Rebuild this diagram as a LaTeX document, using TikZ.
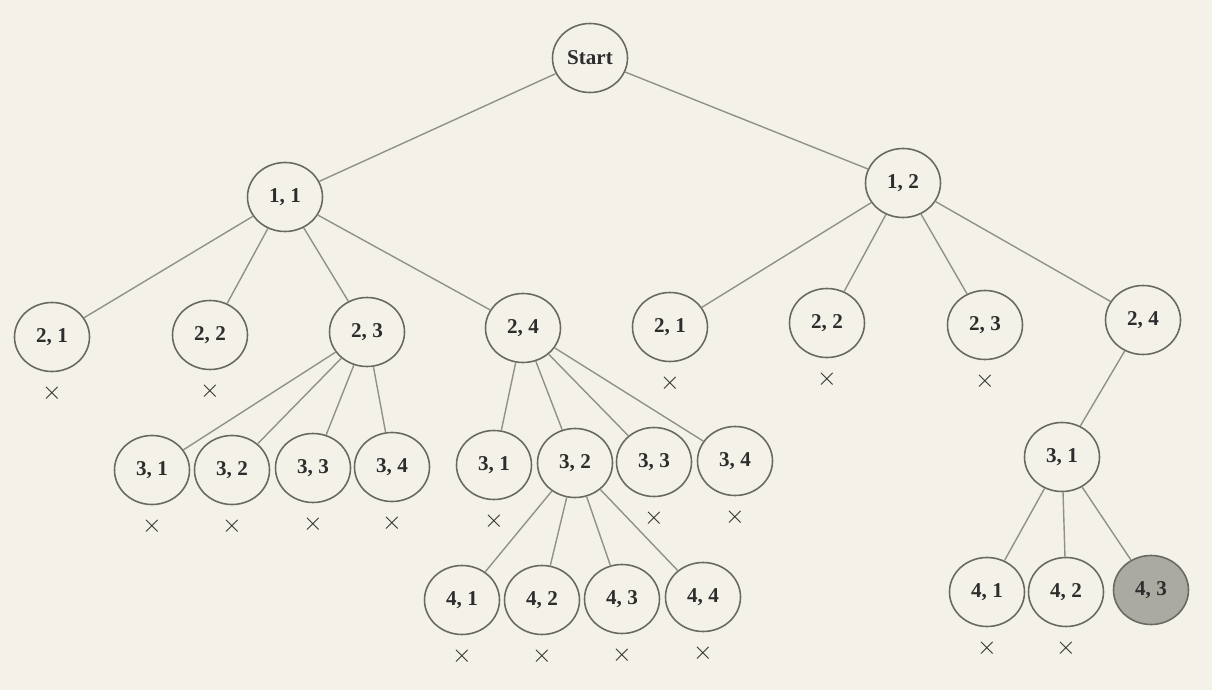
\documentclass[tikz,border=0pt]{standalone}
\usepackage{fontspec}
\setmainfont{Liberation Serif}
\usetikzlibrary{shapes.geometric}
\definecolor{paper}{RGB}{244,242,232}
\definecolor{edgegray}{RGB}{145,145,140}
\definecolor{rimgray}{RGB}{105,105,100}
\definecolor{inkgray}{RGB}{45,45,45}
\definecolor{goalgray}{RGB}{170,169,162}

\begin{document}
\begin{tikzpicture}[
  every node/.style = {text=inkgray, font=\fontsize{12}{14}\selectfont\bfseries},
  state/.style = {shape=ellipse, draw=rimgray, line width=0.9pt, fill=paper,
    minimum width=1.5cm, minimum height=1.38cm, inner sep=0pt},
  goal/.style = {state, fill=goalgray},
  cross/.style = {inner sep=0pt, font=\fontsize{14}{16}\selectfont},
  link/.style = {draw=edgegray, line width=0.8pt}
  ]
  \fill[paper] (0,0) rectangle (24.24,-13.8);
  \useasboundingbox (0,0) rectangle (24.24,-13.8);

  % root and first level
  \node[state] (start) at (11.8,-1.16) {Start};
  \node[state] (a) at (5.7,-3.94) {1, 1};
  \node[state] (b) at (18.06,-3.66) {1, 2};

  % second level
  \node[state] (a21) at (1.04,-6.74) {2, 1};
  \node[state] (a22) at (4.2,-6.7) {2, 2};
  \node[state] (a23) at (7.34,-6.64) {2, 3};
  \node[state] (a24) at (10.46,-6.56) {2, 4};
  \node[state] (b21) at (13.4,-6.54) {2, 1};
  \node[state] (b22) at (16.54,-6.46) {2, 2};
  \node[state] (b23) at (19.7,-6.5) {2, 3};
  \node[state] (b24) at (22.86,-6.4) {2, 4};

  % third level
  \node[state] (c31) at (3.04,-9.4) {3, 1};
  \node[state] (c32) at (4.64,-9.4) {3, 2};
  \node[state] (c33) at (6.26,-9.36) {3, 3};
  \node[state] (c34) at (7.84,-9.34) {3, 4};
  \node[state] (d31) at (9.88,-9.3) {3, 1};
  \node[state] (d32) at (11.5,-9.26) {3, 2};
  \node[state] (d33) at (13.08,-9.24) {3, 3};
  \node[state] (d34) at (14.7,-9.22) {3, 4};
  \node[state] (f31) at (21.24,-9.14) {3, 1};

  % fourth level
  \node[state] (e41) at (9.24,-12.0) {4, 1};
  \node[state] (e42) at (10.84,-12.0) {4, 2};
  \node[state] (e43) at (12.44,-11.98) {4, 3};
  \node[state] (e44) at (14.06,-11.94) {4, 4};
  \node[state] (g41) at (19.74,-11.84) {4, 1};
  \node[state] (g42) at (21.32,-11.84) {4, 2};
  \node[goal] (g43) at (23.02,-11.8) {4, 3};

  \foreach \p/\c in {start/a, start/b,
      a/a21, a/a22, a/a23, a/a24, b/b21, b/b22, b/b23, b/b24,
      a23/c31, a23/c32, a23/c33, a23/c34,
      a24/d31, a24/d32, a24/d33, a24/d34, b24/f31,
      d32/e41, d32/e42, d32/e43, d32/e44,
      f31/g41, f31/g42, f31/g43}
    \draw[link] (\p) -- (\c);

  % dead ends
  \foreach \n in {a21, a22, b21, b22, b23, c31, c32, c33, c34,
      d31, d33, d34, e41, e42, e43, e44, g41, g42}
    \node[cross] (x\n) at ([yshift=-0.42cm]\n.south) {$\times$};
\end{tikzpicture}
\end{document}
